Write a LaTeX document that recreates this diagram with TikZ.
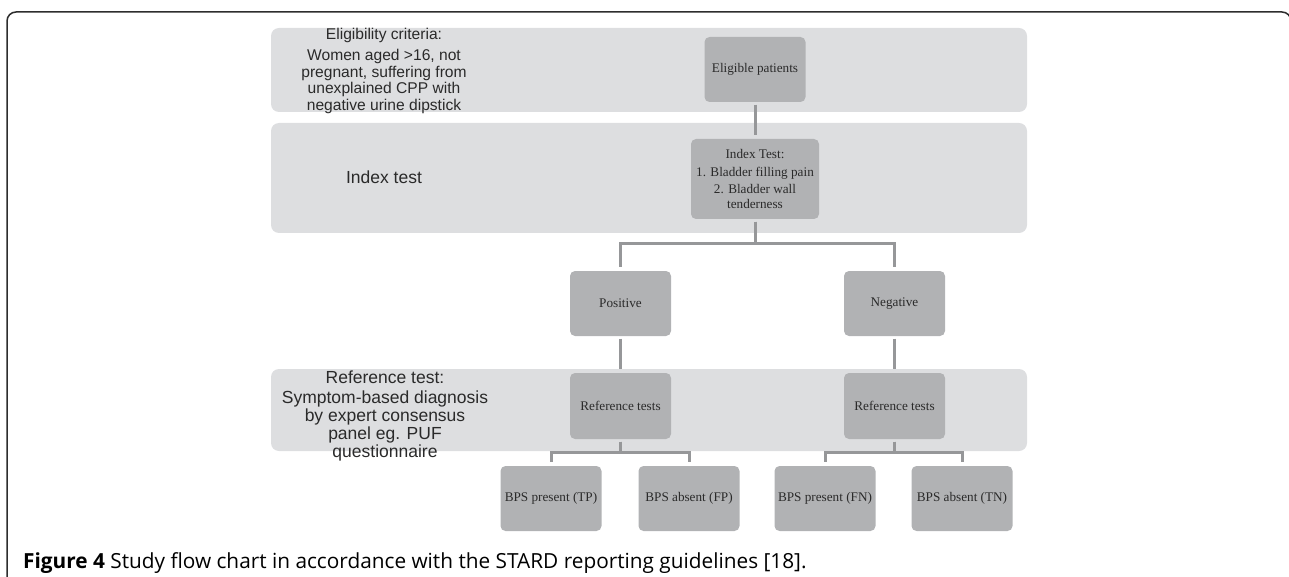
\documentclass[tikz,border=0pt]{standalone}
\usepackage{fontspec}
\setmainfont{Liberation Serif}
\newfontfamily\armfont{Liberation Sans}
\newfontfamily\capfont{Open Sans}
\definecolor{bandgray}{RGB}{221,222,224}
\definecolor{boxgray}{RGB}{177,178,180}
\definecolor{linkgray}{RGB}{150,151,153}
\definecolor{inkgray}{RGB}{42,42,42}
\definecolor{framegray}{RGB}{45,45,45}

\begin{document}
\begin{tikzpicture}[x=1pt,y=-1pt,
  band/.style={fill=bandgray,rounded corners=8pt},
  box/.style={fill=boxgray,rounded corners=5pt,minimum width=101pt,minimum height=65pt,inner sep=0pt,text=inkgray,font=\fontsize{13.2}{14.5}\selectfont,align=center},
  lbl/.style={text=inkgray,align=center,inner sep=0pt},
  link/.style={draw=linkgray,line width=3pt,shorten <=2.5pt,shorten >=4pt}]
\useasboundingbox (0,0) rectangle (1289,577);
\clip (0,0) rectangle (1289,577);

% outer frame
\draw[framegray,line width=1.5pt,rounded corners=9pt] (7,640) -- (7,12) -- (1291,12) -- (1291,640);

% bands
\fill[band] (271,28) rectangle (1027,112);
\fill[band] (271,123) rectangle (1027,233);
\fill[band] (271,369) rectangle (1027,451);

% left labels
\node[lbl,font=\armfont\fontsize{15.6}{16.5}\selectfont] (crit) at (384,35) {Eligibility criteria:};
\node[lbl,font=\armfont\fontsize{15.6}{16.5}\selectfont] (critx) at (384,81.5) {Women aged >16, not\\pregnant, suffering from\\unexplained CPP with\\negative urine dipstick};
\node[lbl,font=\armfont\fontsize{17.5}{18}\selectfont] (idxl) at (384,177) {Index test};
\node[lbl,font=\armfont\fontsize{17.5}{18}\selectfont] (refl) at (385,377) {Reference test:};
\node[lbl,font=\armfont\fontsize{17.5}{18}\selectfont] (refx) at (385,426) {Symptom-based diagnosis\\by expert consensus\\panel eg. PUF\\questionnaire};

% boxes
\node[box] (e) at (755,69.5) {Eligible patients};
\node[box,minimum width=128pt,minimum height=80pt] (i) at (755,179) {Index Test:\\[3pt] 1. Bladder filling pain\\[3pt] 2. Bladder wall\\ tenderness};
\node[box] (p) at (620.5,303.5) {Positive};
\node[box] (n) at (894.5,303.5) {Negative};
\node[box,minimum height=66pt] (rp) at (620.5,406) {Reference tests};
\node[box,minimum height=66pt] (rn) at (894.5,406) {Reference tests};
\node[box] (tp) at (551,498.5) {BPS present (TP)};
\node[box] (fp) at (689,498.5) {BPS absent (FP)};
\node[box] (fn) at (825,498.5) {BPS present (FN)};
\node[box] (tn) at (962,498.5) {BPS absent (TN)};

\coordinate (f1) at (755,244);
\coordinate (f2) at (620.5,452);
\coordinate (f3) at (894.5,452);

% connectors
\draw[link] (e) -- (i);
\draw[link] (i) -- (f1) -| (p);
\draw[link] (i) -- (f1) -| (n);
\draw[link] (p) -- (rp);
\draw[link] (n) -- (rn);
\draw[link] (rp) -- (f2) -| (tp);
\draw[link] (rp) -- (f2) -| (fp);
\draw[link] (rn) -- (f3) -| (fn);
\draw[link] (rn) -- (f3) -| (tn);

% caption
\node[anchor=base west,inner sep=0pt,font=\capfont\fontsize{20.8}{22}\selectfont,text=black] (cap) at (23,568) {\textbf{Figure 4} Study flow chart in accordance with the STARD reporting guidelines [18].};
\end{tikzpicture}
\end{document}
